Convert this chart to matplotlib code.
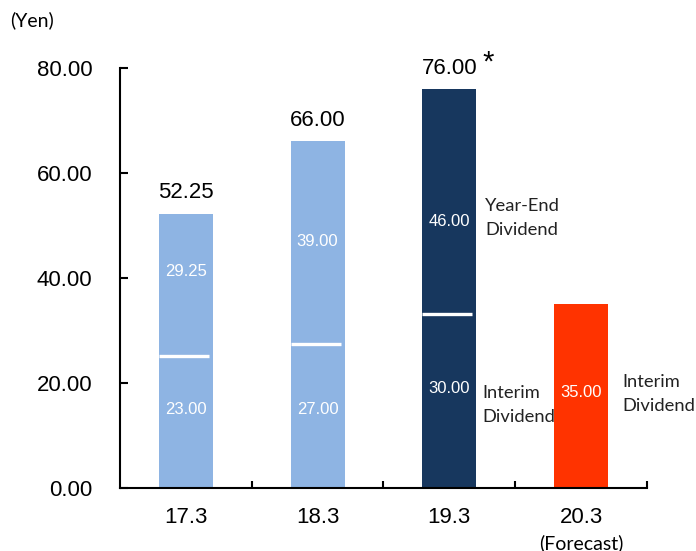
import matplotlib
matplotlib.use("Agg")
import matplotlib.pyplot as plt

# dividend per share (yen), fiscal years ending March
years = ["17.3", "18.3", "19.3", "20.3"]
totals = [52.25, 66.00, 76.00, 35.00]
interim = [23.00, 27.00, 30.00, 35.00]
year_end = [29.25, 39.00, 46.00, None]
# white split line as drawn in the source chart
split_at = [25.1, 27.4, 33.1, None]

BAR_COLORS = ["#8EB4E3", "#8EB4E3", "#17375E", "#FF3300"]
NUM_FONT = "Liberation Sans"
TXT_FONT = "Lato"

# label heights inside the bars (layout only)
INTERIM_Y = [14.9, 14.9, 19.0, 18.1]
YEAR_END_Y = [41.3, 46.9, 50.7, None]

fig = plt.figure(figsize=(6.96, 5.51), dpi=100)
ax = fig.add_axes([0.1724, 0.1143, 0.7572, 0.7623])

x = list(range(len(years)))
width = 0.41
ax.bar(x, totals, width=width, color=BAR_COLORS, zorder=2)

for i, lvl in enumerate(split_at):
    if lvl is None:
        continue
    ax.plot([i - width / 2, i + width / 2 - 0.03], [lvl, lvl], color="white", lw=2.4,
            solid_capstyle="butt", zorder=3)

for i in x:
    ax.text(i, INTERIM_Y[i], f"{interim[i]:.2f}", ha="center", va="center", color="white",
            fontsize=12, family=NUM_FONT, zorder=4)
    if year_end[i] is not None:
        ax.text(i, YEAR_END_Y[i], f"{year_end[i]:.2f}", ha="center", va="center", color="white",
                fontsize=12, family=NUM_FONT, zorder=4)

# totals on top
for i in range(3):
    ax.annotate(f"{totals[i]:.2f}", (i, totals[i]), xytext=(0, 11), textcoords="offset points",
                ha="center", va="baseline", fontsize=16, family=NUM_FONT, annotation_clip=False)
ax.annotate("*", (2, totals[2]), xytext=(24, 13), textcoords="offset points",
            ha="left", va="baseline", fontsize=21, family=NUM_FONT, annotation_clip=False)

# side notes
note_kw = dict(ha="left", va="center", fontsize=13.2, family=TXT_FONT, color="#222222",
               linespacing=1.65, clip_on=False)
ax.text(2.27, 51.4, "Year-End\nDividend", **note_kw)
ax.text(2.25, 15.8, "Interim\nDividend", **note_kw)
ax.text(3.31, 17.9, "Interim\nDividend", **note_kw)

ax.annotate("(Forecast)", (3, 0), xytext=(0, -40), textcoords="offset points",
            ha="center", va="center", fontsize=14, family=TXT_FONT, annotation_clip=False)
fig.text(10 / 696, 1 - 20 / 551, "(Yen)", ha="left", va="center", fontsize=14, family=TXT_FONT)

ax.set_xlim(-0.5, 3.5)
ax.set_ylim(0, 80)
ax.set_yticks([0, 20, 40, 60, 80])
ax.set_yticklabels([f"{v:.2f}" for v in [0, 20, 40, 60, 80]], fontsize=16, family=NUM_FONT)
ax.set_xticks(x)
ax.set_xticklabels(years, fontsize=16, family=NUM_FONT)
ax.set_xticks([0.5, 1.5, 2.5, 3.5], minor=True)
ax.tick_params(axis="x", which="major", length=0, pad=14)
ax.tick_params(axis="x", which="minor", direction="in", length=5, width=1.5)
ax.tick_params(axis="y", direction="in", length=6, width=1.5, pad=20)
for side in ("top", "right"):
    ax.spines[side].set_visible(False)
for side in ("left", "bottom"):
    ax.spines[side].set_linewidth(1.5)

fig.savefig("out.png", dpi=100)
